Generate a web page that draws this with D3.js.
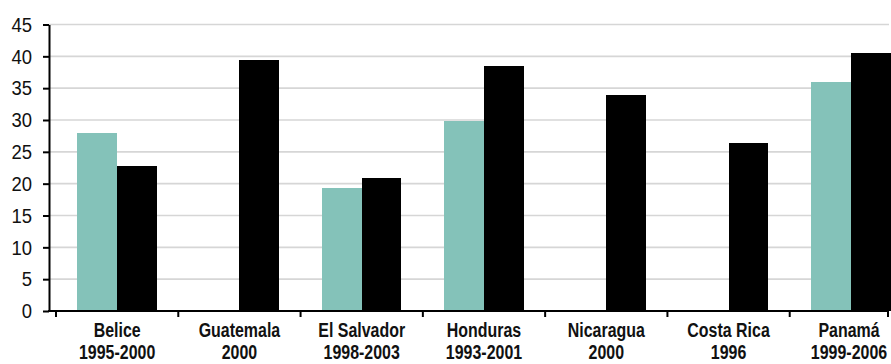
<!DOCTYPE html>
<html>
<head>
<meta charset="utf-8">
<script src="https://cdn.jsdelivr.net/npm/d3@7"></script>
<style>
  html, body { margin: 0; padding: 0; background: #fff; }
  svg { display: block; }
  .ylab { font-family: "Liberation Sans", Arial, sans-serif; font-size: 21px; fill: #111; }
  .xlab { font-family: "Liberation Sans", Arial, sans-serif; font-size: 21px; font-weight: bold; fill: #111; }
</style>
</head>
<body>
<svg id="chart" width="891" height="364"></svg>
<script>
// ---- data ----
const countries = ["Belice", "Guatemala", "El Salvador", "Honduras", "Nicaragua", "Costa Rica", "Panamá"];
const periods   = ["1995-2000", "2000", "1998-2003", "1993-2001", "2000", "1996", "1999-2006"];
const seriesNames = ["Serie 1", "Serie 2"];
const seriesTeal  = [28.0, null, 19.3, 29.8, null, null, 36.0];
const seriesBlack = [22.8, 39.4, 20.9, 38.5, 34.0, 26.4, 40.5];
const yTicks = [0, 5, 10, 15, 20, 25, 30, 35, 40, 45];
const colors = ["#84c2b9", "#000000"];

// ---- layout ----
const axisX = 49, plotRight = 889;
const svg = d3.select("#chart");

const y = d3.scaleLinear().domain([0, 45]).range([311, 24.5]);
const x0 = d3.scaleBand().domain(countries).range([56, 912]).paddingInner(0.35).paddingOuter(0.175);
const x1 = d3.scaleBand().domain(seriesNames).range([0, x0.bandwidth()]);

// gridlines
svg.append("g").selectAll("line").data(yTicks.filter(d => d > 0)).join("line")
  .attr("x1", axisX).attr("x2", plotRight)
  .attr("y1", d => y(d)).attr("y2", d => y(d))
  .attr("stroke", "#d6d6d6").attr("stroke-width", 1.6);

// bars
const rows = countries.map((c, i) => ({ c, vals: [seriesTeal[i], seriesBlack[i]] }));
const g = svg.append("g").selectAll("g").data(rows).join("g")
  .attr("transform", d => `translate(${x0(d.c)},0)`);
g.selectAll("rect")
  .data(d => d.vals.map((v, k) => ({ v, k })).filter(e => e.v != null))
  .join("rect")
  .attr("x", e => x1(seriesNames[e.k]))
  .attr("width", x1.bandwidth())
  .attr("y", e => y(e.v))
  .attr("height", e => y(0) - y(e.v))
  .attr("fill", e => colors[e.k])
  .attr("shape-rendering", "crispEdges");

// y axis
const yAxis = d3.axisLeft(y).tickValues(yTicks).tickSize(6).tickSizeOuter(0).tickPadding(11).tickFormat(d3.format("d"));
const ya = svg.append("g").attr("transform", `translate(${axisX},0)`).call(yAxis);
ya.select(".domain").attr("stroke", "#000").attr("stroke-width", 2);
ya.selectAll(".tick line").attr("stroke", "#000").attr("stroke-width", 2);
ya.selectAll(".tick text")
  .attr("class", "ylab").attr("font-size", null).attr("font-family", null).attr("fill", null)
  .attr("x", null)
  .attr("transform", "translate(-17,0) scale(0.88,1)");

// x baseline
svg.append("line").attr("x1", axisX - 1).attr("x2", plotRight)
  .attr("y1", y(0)).attr("y2", y(0)).attr("stroke", "#000").attr("stroke-width", 2);

// x boundary ticks
const step = x0.step();
const bounds = countries.map(c => x0(c) + x0.bandwidth() / 2 - step / 2);
bounds.push(bounds[bounds.length - 1] + step);
svg.append("g").selectAll("line").data(bounds.map(b => Math.min(b, plotRight - 1))).join("line")
  .attr("x1", d => d).attr("x2", d => d)
  .attr("y1", y(0)).attr("y2", y(0) + 6)
  .attr("stroke", "#000").attr("stroke-width", 2);

// x labels (condensed look via horizontal scaling)
const lab = svg.append("g").selectAll("text").data(countries).join("text")
  .attr("class", "xlab")
  .attr("text-anchor", "middle")
  .attr("transform", d => `translate(${Math.min(x0(d) + x0.bandwidth() / 2, 849)},337) scale(0.76,1)`);
lab.append("tspan").attr("x", 0).attr("y", 0).text(d => d);
lab.append("tspan").attr("x", 0).attr("y", 22).text((d, i) => periods[i]);
</script>
</body>
</html>
